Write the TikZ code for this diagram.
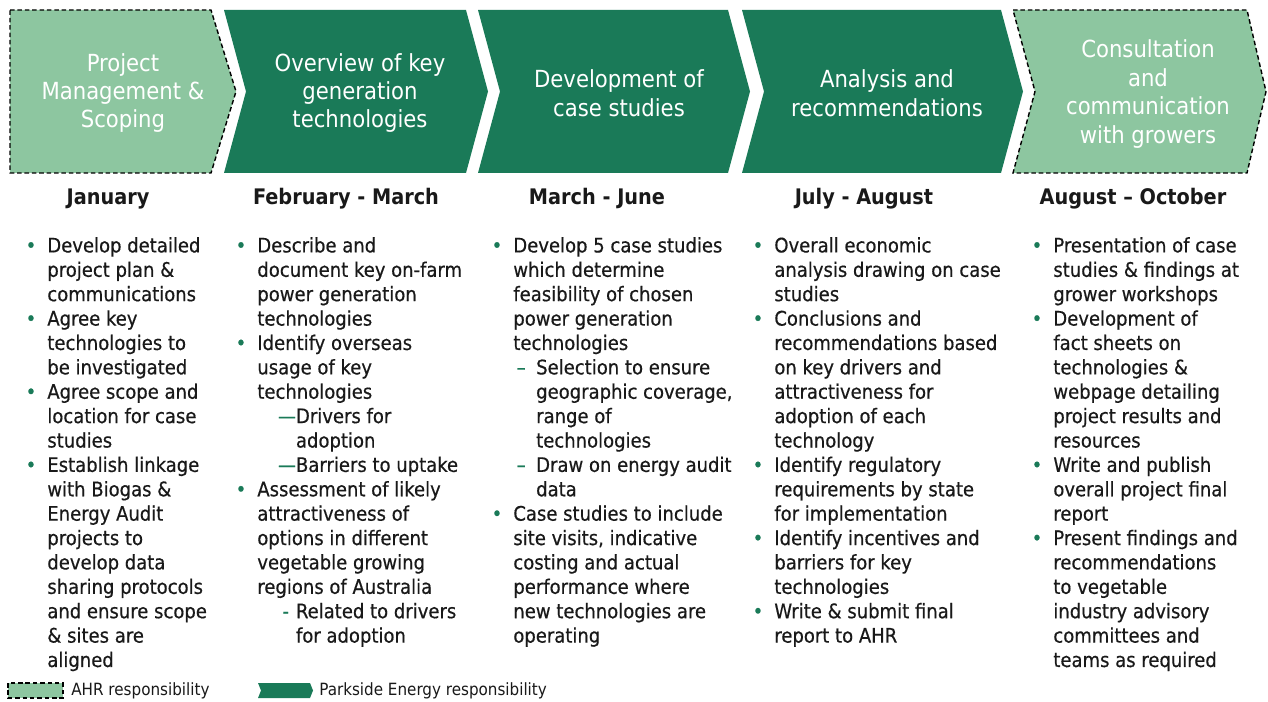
\documentclass[tikz,border=0pt]{standalone}
\usepackage{fontspec}
\setmainfont{DejaVu Sans Condensed}
\newfontfamily\listfont{DejaVu Sans Condensed}[FakeBold=0.5]
\usepackage{xcolor}
\definecolor{parkgreen}{RGB}{26,122,88}
\definecolor{ahrgreen}{RGB}{141,198,160}
\definecolor{bodytext}{RGB}{25,25,25}

\newcommand{\itm}{\strut\llap{\textcolor{parkgreen}{\textbullet}\hspace{6.3pt}}}
\newcommand{\subdash}[2]{\hspace*{#1}\llap{\textcolor{parkgreen}{#2}}}

\tikzset{
  ahrstage/.style={fill=ahrgreen,draw=black,line width=0.8pt,dash pattern=on 2.6pt off 1.6pt},
  parkstage/.style={fill=parkgreen},
  stagetext/.style={text=white,align=center,inner sep=0pt,font=\fontsize{13.4}{16.2}\selectfont},
  monthtext/.style={anchor=base,inner sep=0pt,text=bodytext,font=\fontsize{12.2}{14}\selectfont\bfseries},
  tasklist/.style={anchor=north west,inner sep=0pt,align=left,text=bodytext,font=\listfont\fontsize{11.4}{13.88}\selectfont},
  keytext/.style={anchor=west,inner sep=0pt,text=bodytext,font=\fontsize{9.6}{11}\selectfont}
}

\begin{document}
\begin{tikzpicture}[x=0.02cm,y=-0.02cm]
  \useasboundingbox (0,0) rectangle (1268,702);

  % stage arrows
  \draw[ahrstage] (10,10) -- (211,10) -- (236,91.5) -- (211,173) -- (10,173) -- cycle;
  \fill[parkstage] (224,10) -- (466,10) -- (488,91.5) -- (466,173) -- (224,173) -- (246,91.5) -- cycle;
  \fill[parkstage] (478,10) -- (728,10) -- (750,91.5) -- (728,173) -- (478,173) -- (500,91.5) -- cycle;
  \fill[parkstage] (742,10) -- (1001,10) -- (1023,91.5) -- (1001,173) -- (742,173) -- (764,91.5) -- cycle;
  \draw[ahrstage] (1013,10) -- (1247,10) -- (1266,91.5) -- (1247,173) -- (1013,173) -- (1035,91.5) -- cycle;

  \node[stagetext] (scoping) at (123,93) {Project\\Management \&\\Scoping};
  \node[stagetext] (overview) at (360,93) {Overview of key\\generation\\technologies};
  \node[stagetext] (cases) at (619,93) {Development of\\case studies};
  \node[stagetext] (analysis) at (887,93) {Analysis and\\recommendations};
  \node[stagetext] (consult) at (1148,94) {Consultation\\and\\communication\\with growers};

  % timing
  \node[monthtext] (jan) at (108,205) {January};
  \node[monthtext] (febmar) at (346,205) {February - March};
  \node[monthtext] (marjun) at (597,205) {March - June};
  \node[monthtext] (julaug) at (864,205) {July - August};
  \node[monthtext] (augoct) at (1133,205) {August – October};

  % tasks per stage
  \node[tasklist] (janlist) at (47,235) {%
    \itm Develop detailed\\
    project plan \&\\
    communications\\
    \itm Agree key\\
    technologies to\\
    be investigated\\
    \itm Agree scope and\\
    location  for case\\
    studies\\
    \itm Establish linkage\\
    with Biogas \&\\
    Energy Audit\\
    projects to\\
    develop data\\
    sharing protocols\\
    and ensure scope\\
    \& sites are\\
    aligned};

  \node[tasklist] (febmarlist) at (257,235) {%
    \itm Describe and\\
    document key on-farm\\
    power generation\\
    technologies\\
    \itm Identify overseas\\
    usage of key\\
    technologies\\
    \subdash{22pt}{—}Drivers for\\
    \hspace*{22pt}adoption\\
    \subdash{22pt}{—}Barriers to uptake\\
    \itm Assessment of likely\\
    attractiveness of\\
    options in different\\
    vegetable growing\\
    regions of Australia\\
    \subdash{22pt}{-\hspace{4pt}}Related to drivers\\
    \hspace*{22pt}for adoption};

  \node[tasklist] (marjunlist) at (513,235) {%
    \itm Develop 5 case studies\\
    which determine\\
    feasibility of chosen\\
    power generation\\
    technologies\\
    \subdash{13pt}{–\hspace{6pt}}Selection to ensure\\
    \hspace*{13pt}geographic coverage,\\
    \hspace*{13pt}range of\\
    \hspace*{13pt}technologies\\
    \subdash{13pt}{–\hspace{6pt}}Draw on energy audit\\
    \hspace*{13pt}data\\
    \itm Case studies to include\\
    site visits, indicative\\
    costing and actual\\
    performance where\\
    new technologies are\\
    operating};

  \node[tasklist] (julauglist) at (774,235) {%
    \itm Overall economic\\
    analysis drawing on case\\
    studies\\
    \itm Conclusions and\\
    recommendations based\\
    on key drivers and\\
    attractiveness for\\
    adoption of each\\
    technology\\
    \itm Identify regulatory\\
    requirements by state\\
    for implementation\\
    \itm Identify incentives and\\
    barriers for key\\
    technologies\\
    \itm Write \& submit final\\
    report to AHR};

  \node[tasklist] (augoctlist) at (1053,235) {%
    \itm Presentation of case\\
    studies \& findings at\\
    grower workshops\\
    \itm Development of\\
    fact sheets on\\
    technologies \&\\
    webpage detailing\\
    project results and\\
    resources\\
    \itm Write and publish\\
    overall project final\\
    report\\
    \itm Present findings and\\
    recommendations\\
    to vegetable\\
    industry advisory\\
    committees and\\
    teams as required};

  % key
  \draw[ahrstage] (8,683) rectangle (63,698);
  \node[keytext] (ahrkey) at (71,691) {AHR responsibility};
  \fill[parkstage] (258,683) -- (310,683) -- (313,690.5) -- (310,698) -- (258,698) -- (261,690.5) -- cycle;
  \node[keytext] (parkkey) at (319,691) {Parkside Energy responsibility};
\end{tikzpicture}
\end{document}
